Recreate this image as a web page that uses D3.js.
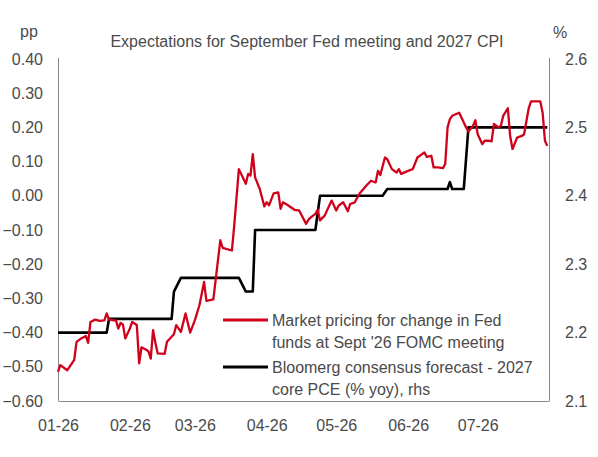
<!DOCTYPE html>
<html>
<head>
<meta charset="utf-8">
<script src="https://cdn.jsdelivr.net/npm/d3@7"></script>
<style>
  body { margin: 0; background: #fff; }
  text { font-family: "Liberation Sans", Arial, sans-serif; fill: #4a4a4a; }
</style>
</head>
<body>
<script>
// market pricing for change in Fed funds at Sept '26 FOMC (pp, lhs)
var fedPricing = [
  ["2026-01-01", -0.515], ["2026-01-02", -0.495], ["2026-01-05", -0.51], ["2026-01-07", -0.49],
  ["2026-01-08", -0.48], ["2026-01-09", -0.427], ["2026-01-11", -0.417], ["2026-01-13", -0.41],
  ["2026-01-14", -0.43], ["2026-01-15", -0.369], ["2026-01-17", -0.362], ["2026-01-19", -0.366],
  ["2026-01-21", -0.364], ["2026-01-22", -0.344], ["2026-01-23", -0.362], ["2026-01-25", -0.364],
  ["2026-01-26", -0.364], ["2026-01-27", -0.388], ["2026-01-28", -0.372], ["2026-01-29", -0.376],
  ["2026-01-30", -0.417], ["2026-02-01", -0.388], ["2026-02-02", -0.369], ["2026-02-04", -0.378],
  ["2026-02-05", -0.49], ["2026-02-06", -0.443], ["2026-02-08", -0.45], ["2026-02-09", -0.455],
  ["2026-02-10", -0.476], ["2026-02-11", -0.393], ["2026-02-12", -0.43], ["2026-02-13", -0.461],
  ["2026-02-16", -0.462], ["2026-02-17", -0.427], ["2026-02-20", -0.405], ["2026-02-21", -0.378],
  ["2026-02-23", -0.398], ["2026-02-25", -0.344], ["2026-02-27", -0.40], ["2026-03-01", -0.364],
  ["2026-03-03", -0.32], ["2026-03-05", -0.252], ["2026-03-06", -0.307], ["2026-03-09", -0.303],
  ["2026-03-12", -0.13], ["2026-03-13", -0.152], ["2026-03-17", -0.16], ["2026-03-18", -0.087],
  ["2026-03-20", 0.078], ["2026-03-23", 0.035], ["2026-03-24", 0.064], ["2026-03-25", 0.059],
  ["2026-03-26", 0.122], ["2026-03-27", 0.054], ["2026-03-29", 0.02], ["2026-03-31", -0.031],
  ["2026-04-01", -0.019], ["2026-04-02", -0.028], ["2026-04-04", 0.007], ["2026-04-06", 0.01],
  ["2026-04-07", -0.038], ["2026-04-08", -0.019], ["2026-04-10", -0.027], ["2026-04-13", -0.041],
  ["2026-04-15", -0.043], ["2026-04-18", -0.082], ["2026-04-19", -0.07], ["2026-04-20", -0.063],
  ["2026-04-22", -0.053], ["2026-04-23", -0.041], ["2026-04-24", -0.072], ["2026-04-26", -0.058],
  ["2026-04-29", -0.014], ["2026-05-01", -0.043], ["2026-05-02", -0.029], ["2026-05-04", -0.019],
  ["2026-05-06", -0.045], ["2026-05-07", -0.024], ["2026-05-09", -0.019], ["2026-05-11", 0.006],
  ["2026-05-14", 0.03], ["2026-05-16", 0.044], ["2026-05-18", 0.039], ["2026-05-19", 0.073],
  ["2026-05-20", 0.061], ["2026-05-22", 0.112], ["2026-05-23", 0.107], ["2026-05-25", 0.078],
  ["2026-05-27", 0.068], ["2026-05-28", 0.078], ["2026-05-29", 0.064], ["2026-06-01", 0.073],
  ["2026-06-03", 0.078], ["2026-06-05", 0.112], ["2026-06-08", 0.127], ["2026-06-09", 0.114],
  ["2026-06-11", 0.117], ["2026-06-12", 0.083], ["2026-06-14", 0.083], ["2026-06-16", 0.081],
  ["2026-06-17", 0.093], ["2026-06-18", 0.20], ["2026-06-19", 0.224], ["2026-06-20", 0.234],
  ["2026-06-23", 0.243], ["2026-06-24", 0.229], ["2026-06-26", 0.20], ["2026-06-27", 0.188],
  ["2026-06-29", 0.205], ["2026-06-30", 0.221], ["2026-07-01", 0.18], ["2026-07-03", 0.151],
  ["2026-07-04", 0.161], ["2026-07-06", 0.161], ["2026-07-07", 0.159], ["2026-07-08", 0.21],
  ["2026-07-10", 0.20], ["2026-07-11", 0.205], ["2026-07-12", 0.234], ["2026-07-14", 0.256],
  ["2026-07-15", 0.175], ["2026-07-16", 0.137], ["2026-07-18", 0.17], ["2026-07-20", 0.175],
  ["2026-07-21", 0.18], ["2026-07-23", 0.256], ["2026-07-24", 0.276], ["2026-07-28", 0.276],
  ["2026-07-29", 0.243], ["2026-07-30", 0.161], ["2026-07-31", 0.146]
];

// Bloomberg consensus 2027 core PCE (% yoy, rhs)
var pceForecast = [
  ["2026-01-01", 2.20], ["2026-01-22", 2.20], ["2026-01-23", 2.22], ["2026-02-19", 2.22],
  ["2026-02-20", 2.26], ["2026-02-23", 2.28], ["2026-03-20", 2.28], ["2026-03-23", 2.26],
  ["2026-03-26", 2.26], ["2026-03-27", 2.35], ["2026-04-22", 2.35], ["2026-04-24", 2.40],
  ["2026-05-21", 2.40], ["2026-05-23", 2.41], ["2026-06-18", 2.41], ["2026-06-19", 2.42],
  ["2026-06-20", 2.41], ["2026-06-25", 2.41], ["2026-06-27", 2.50], ["2026-07-31", 2.50]
];

var leftTicks = [0.4, 0.3, 0.2, 0.1, 0, -0.1, -0.2, -0.3, -0.4, -0.5, -0.6];
var rightTicks = [2.6, 2.5, 2.4, 2.3, 2.2, 2.1];
var monthTicks = ["2026-01-01", "2026-02-01", "2026-03-01", "2026-04-01", "2026-05-01", "2026-06-01", "2026-07-01"];

var legendItems = [
  {lines: ["Market pricing for change in Fed", "funds at Sept '26 FOMC meeting"], color: "#d0021b"},
  {lines: ["Bloomerg consensus forecast - 2027", "core PCE (% yoy), rhs"], color: "#000000"}
];

var width = 598, height = 457;
var plotLeft = 58, plotRight = 549, plotTop = 59, plotBottom = 401;
var textColor = "#4a4a4a";
var parse = d3.timeParse("%Y-%m-%d");

var svg = d3.select("body").append("svg")
    .attr("width", width)
    .attr("height", height);

var x = d3.scaleTime()
    .domain([parse("2026-01-01"), d3.timeHour.offset(parse("2026-07-31"), 18)])
    .range([plotLeft, plotRight]);
var yL = d3.scaleLinear().domain([-0.6, 0.4]).range([plotBottom, plotTop]);
var yR = d3.scaleLinear().domain([2.1, 2.6]).range([plotBottom, plotTop]);

// axes
var axisL = svg.append("g")
    .attr("transform", "translate(" + plotLeft + ",0)")
    .call(d3.axisLeft(yL).tickValues(leftTicks).tickSize(0).tickPadding(15).tickFormat(d3.format(".2f")));
var axisR = svg.append("g")
    .attr("transform", "translate(" + plotRight + ",0)")
    .call(d3.axisRight(yR).tickValues(rightTicks).tickSize(0).tickPadding(16).tickFormat(d3.format(".1f")));
var axisB = svg.append("g")
    .attr("transform", "translate(0," + plotBottom + ")")
    .call(d3.axisBottom(x).tickValues(monthTicks.map(parse)).tickSize(0).tickPadding(19).tickFormat(d3.timeFormat("%m-%y")));

[axisL, axisR, axisB].forEach(function(a){
    a.select(".domain").attr("stroke", "#8a8a8a").attr("stroke-width", 1);
    a.selectAll("text").attr("font-size", "16px").attr("fill", textColor)
      .attr("font-family", "Liberation Sans, Arial, sans-serif");
});
axisL.select(".domain").attr("d", "M0.5," + (plotTop - 1) + "V" + plotBottom);
axisR.select(".domain").attr("d", "M0.5," + (plotTop - 1) + "V" + plotBottom);

// lines
var linePce = d3.line()
    .x(function(d){ return x(parse(d[0])); })
    .y(function(d){ return yR(d[1]); });
var lineFed = d3.line()
    .x(function(d){ return x(parse(d[0])); })
    .y(function(d){ return yL(d[1]); });

svg.append("path")
    .datum(pceForecast)
    .attr("d", linePce)
    .attr("fill", "none")
    .attr("stroke", legendItems[1].color)
    .attr("stroke-width", 2.6)
    .attr("stroke-linejoin", "round");

svg.append("path")
    .datum(fedPricing)
    .attr("d", lineFed)
    .attr("fill", "none")
    .attr("stroke", legendItems[0].color)
    .attr("stroke-width", 2.3)
    .attr("stroke-linejoin", "round");

// titles
svg.append("text")
    .attr("x", 307).attr("y", 47)
    .attr("text-anchor", "middle")
    .attr("font-size", "16px")
    .text("Expectations for September Fed meeting and 2027 CPI");
svg.append("text").attr("x", 29).attr("y", 37).attr("text-anchor", "middle").attr("font-size", "16px").text("pp");
svg.append("text").attr("x", 560).attr("y", 38).attr("text-anchor", "middle").attr("font-size", "16px").text("%");

// legend
var legend = svg.append("g").selectAll("g")
    .data(legendItems)
    .enter()
    .append("g")
    .attr("transform", function(d, i){ return "translate(223," + (320 + i * 47) + ")"; });
legend.append("line")
    .attr("x1", 0).attr("x2", 45)
    .attr("y1", 0).attr("y2", 0)
    .attr("stroke", function(d){ return d.color; })
    .attr("stroke-width", 3);
legend.append("text")
    .attr("x", 49)
    .attr("font-size", "16px")
    .selectAll("tspan")
    .data(function(d){ return d.lines; })
    .enter()
    .append("tspan")
    .attr("x", 49)
    .attr("y", function(d, i){ return 5.5 + i * 22; })
    .text(function(d){ return d; });
</script>
</body>
</html>
